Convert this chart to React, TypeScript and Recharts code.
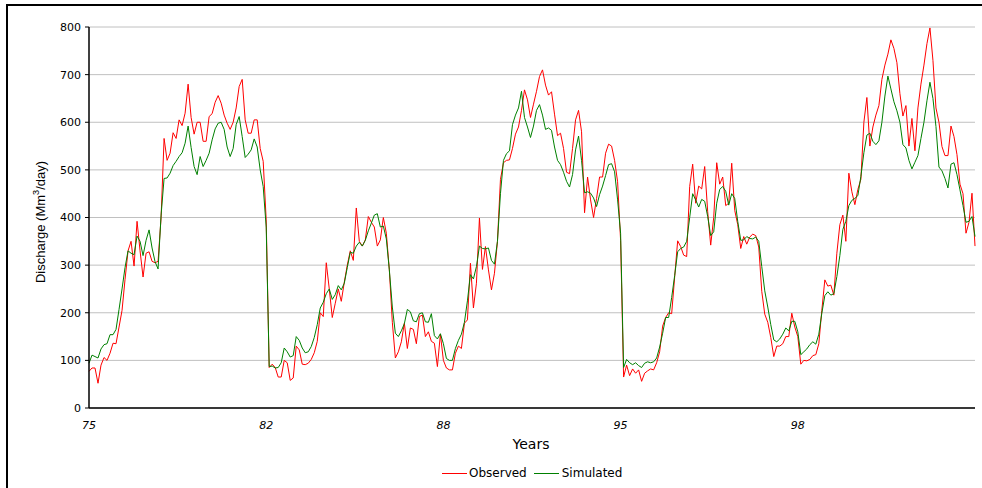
import React from 'react';
import { LineChart, Line, XAxis, YAxis, CartesianGrid } from 'recharts';

// values, one per step along the x axis
const observed = [
    77, 84, 84, 52, 90, 106, 100, 115, 136, 135, 170, 205, 270, 330, 350, 298, 392, 330, 275, 325,
    328, 308, 305, 308, 400, 566, 520, 535, 578, 566, 605, 593, 619, 680, 610, 575, 600, 600, 560, 560,
    612, 618, 642, 656, 640, 615, 598, 585, 600,
    630, 675, 690, 605, 577, 577, 605, 605, 545, 518, 395, 85, 92, 85, 65, 65, 100, 95, 58, 63,
    130, 122, 92, 91, 94, 102, 116, 140, 200, 192, 305, 250, 190, 220, 250, 224, 264, 300, 330, 310,
    420, 350, 340, 353, 402, 390, 380, 340,
    353, 400, 367, 290, 180, 105, 118, 139, 178, 125, 168, 165, 135, 192, 195, 150, 160, 140, 136, 87,
    155, 100, 84, 80, 80, 115, 130, 125, 178, 185, 304, 210, 262, 399, 291, 339, 290, 248, 283, 350,
    480, 515, 520, 521, 545, 575, 590, 625,
    668, 647, 610, 638, 665, 696, 710, 678, 657, 664, 617, 572, 577, 545, 495, 492, 545, 605, 625, 580,
    410, 485, 437, 400, 440, 485, 485, 535, 554, 550, 520, 475, 352, 65, 90, 68, 82, 73, 80, 56,
    73, 78, 82, 80, 95, 118, 172, 190,
    200, 198, 275, 351, 339, 321, 318, 465, 512, 430, 466, 460, 507, 412, 342, 400, 515, 470, 485, 425,
    430, 514, 415, 385, 335, 360, 344, 359, 365, 362, 338, 245, 197, 180, 148, 108, 130, 130, 135, 150,
    150, 199, 170, 150, 92, 100, 99, 102, 110,
    112, 135, 205, 269, 256, 258, 237, 325, 385, 405, 350, 493, 454, 427, 459, 480, 600, 652, 550, 590,
    615, 635, 690, 720, 743, 773, 755, 725, 660, 613, 635, 550, 608, 540, 630, 680, 720, 765, 798, 730,
    630, 600, 549, 530, 530, 592, 570, 532, 470, 450, 367, 390, 451, 340,
];

const simulated = [
    94, 111, 108, 105, 124, 133, 135, 154, 154, 165, 207, 250, 295, 330, 325, 322, 361, 350, 320, 352,
    374, 336, 307, 292, 405, 482, 483, 493, 509, 518, 528, 536, 556, 592, 547, 507, 490, 528, 507, 520,
    535, 563, 586, 598, 600, 585, 548, 528, 545,
    595, 612, 570, 526, 533, 542, 565, 548, 500, 465, 380, 87, 88, 84, 85, 95, 126, 118, 107, 110,
    150, 142, 126, 116, 118, 129, 148, 175, 210, 222, 240, 250, 228, 238, 257, 248, 262, 295, 327, 325,
    340, 348, 340, 352, 372, 388, 405, 408,
    380, 382, 355, 290, 212, 157, 150, 162, 177, 207, 202, 183, 181, 198, 200, 181, 180, 198, 152, 145,
    156, 135, 104, 100, 100, 125, 142, 155, 180, 225, 280, 271, 297, 340, 335, 334, 336, 310, 302, 350,
    450, 520, 534, 540, 595, 615, 630, 665,
    610, 590, 568, 592, 625, 637, 615, 585, 588, 583, 548, 520, 511, 495, 476, 464, 490, 542, 571, 520,
    452, 454, 451, 441, 423, 448, 466, 488, 511, 513, 496, 437, 367, 85, 102, 95, 91, 95, 89, 85,
    94, 97, 95, 97, 105, 128, 157, 190,
    190, 232, 278, 328, 335, 338, 350, 400, 450, 437, 422, 438, 434, 402, 362, 370, 430, 459, 465, 455,
    426, 450, 440, 392, 352, 353, 360, 356, 355, 359, 350, 297, 246, 212, 175, 143, 139, 145, 155, 168,
    162, 182, 182, 160, 112, 118, 124, 133, 139,
    134, 155, 199, 236, 244, 237, 240, 276, 320, 375, 392, 425, 436, 440, 446, 486, 536, 573, 577, 560,
    553, 561, 600, 655, 697, 670, 643, 624, 600, 553, 546, 520, 502, 516, 530, 566, 600, 645, 684, 650,
    591, 506, 498, 482, 462, 512, 515, 490, 458, 425, 390, 392, 402, 360,
];

const yTicks = [0, 100, 200, 300, 400, 500, 600, 700, 800];
const xTickIndex = [0, 59, 118, 177, 236];
const xTickLabels = ['75', '82', '88', '95', '98'];

const chartData = observed.map((v, i) => ({ i, observed: v, simulated: simulated[i] }));

const wideFont = '"DejaVu Sans", sans-serif';

const App: React.FC = () => (
    <div style={{ position: 'absolute', left: 0, top: 0, width: 982, height: 488, overflow: 'hidden', background: '#fff' }}>
        <div style={{ position: 'absolute', left: 6, top: 4, width: 1000, height: 600, border: '2px solid #000' }} />
        <div style={{ position: 'absolute', left: 0, top: 0 }}>
            <LineChart width={982} height={488} data={chartData} margin={{ top: 27, right: 7, left: 29, bottom: 50 }}>
                <CartesianGrid vertical={false} stroke="#c0c0c0" />
                <XAxis
                    dataKey="i"
                    type="number"
                    domain={[0, observed.length - 1]}
                    ticks={xTickIndex}
                    tickFormatter={(v) => xTickLabels[xTickIndex.indexOf(v)]}
                    tickLine={false}
                    tickSize={8}
                    tickMargin={5}
                    height={30}
                    axisLine={{ stroke: '#000', strokeWidth: 1.5 }}
                    tick={{ fill: '#000', fontSize: 11, fontStyle: 'italic', fontFamily: wideFont }}
                />
                <YAxis
                    domain={[0, 800]}
                    ticks={yTicks}
                    width={60}
                    tickSize={4}
                    tickMargin={4}
                    axisLine={{ stroke: '#000', strokeWidth: 1.5 }}
                    tickLine={{ stroke: '#000' }}
                    tick={{ fill: '#000', fontSize: 11, fontFamily: wideFont }}
                />
                <YAxis
                    yAxisId="edge"
                    orientation="right"
                    domain={[0, 800]}
                    width={0}
                    tick={false}
                    tickLine={false}
                    axisLine={{ stroke: '#a8a8a8' }}
                />
                <Line type="linear" dataKey="observed" stroke="#ff0000" strokeWidth={1} dot={false} isAnimationActive={false} />
                <Line type="linear" dataKey="simulated" stroke="#008000" strokeWidth={1} dot={false} isAnimationActive={false} />
            </LineChart>
        </div>
        <div
            style={{
                position: 'absolute',
                left: 40,
                top: 222,
                transform: 'translate(-50%, -50%) rotate(-90deg)',
                whiteSpace: 'nowrap',
                fontFamily: '"Liberation Sans", Arial, sans-serif',
                fontSize: 13,
                color: '#000',
            }}
        >
            Discharge (Mm<sup style={{ fontSize: '0.7em', lineHeight: 0 }}>3</sup>/day)
        </div>
        <div
            style={{
                position: 'absolute',
                left: 531,
                top: 444,
                transform: 'translate(-50%, -50%)',
                fontFamily: wideFont,
                fontSize: 14,
                color: '#000',
            }}
        >
            Years
        </div>
        <div
            style={{
                position: 'absolute',
                left: 442,
                top: 465,
                height: 16,
                display: 'flex',
                alignItems: 'center',
                fontFamily: wideFont,
                fontSize: 12,
                color: '#000',
                whiteSpace: 'nowrap',
            }}
        >
            <span style={{ display: 'inline-block', width: 25, height: 1, background: '#ff0000', marginRight: 2 }} />
            <span>Observed</span>
            <span style={{ display: 'inline-block', width: 25, height: 1, background: '#008000', marginLeft: 7, marginRight: 3 }} />
            <span>Simulated</span>
        </div>
    </div>
);

export default App;
